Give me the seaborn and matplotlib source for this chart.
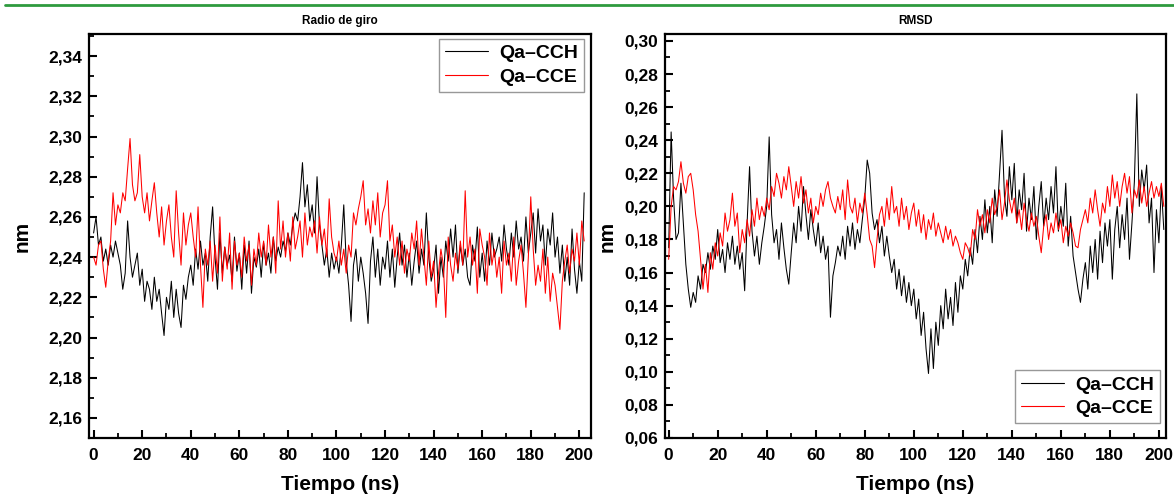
import numpy as np
import pandas as pd
import matplotlib
matplotlib.use('Agg')
import matplotlib.pyplot as plt
import seaborn as sns
from matplotlib.ticker import MultipleLocator, FuncFormatter
from matplotlib.lines import Line2D

# ---------------- data ----------------
series_names = ['Qa–CCH', 'Qa–CCE']
panel_titles = ['Radio de giro', 'RMSD']
x_label = 'Tiempo (ns)'
y_label = 'nm'

rg_cch = [
    2.252, 2.260, 2.246, 2.250, 2.238, 2.244, 2.236, 2.246, 2.240, 2.248,
    2.242, 2.236, 2.224, 2.232, 2.258, 2.240, 2.230, 2.236, 2.242, 2.226,
    2.234, 2.218, 2.228, 2.224, 2.214, 2.230, 2.218, 2.224, 2.212, 2.201,
    2.220, 2.214, 2.228, 2.210, 2.224, 2.212, 2.205, 2.226, 2.219, 2.230,
    2.236, 2.226, 2.244, 2.234, 2.248, 2.236, 2.242, 2.228, 2.250, 2.265,
    2.240, 2.224, 2.252, 2.232, 2.245, 2.236, 2.241, 2.228, 2.250, 2.233,
    2.242, 2.224, 2.246, 2.232, 2.248, 2.222, 2.240, 2.235, 2.244, 2.230,
    2.247, 2.236, 2.242, 2.232, 2.250, 2.238, 2.245, 2.240, 2.248, 2.243,
    2.252, 2.246, 2.256, 2.262, 2.258, 2.270, 2.287, 2.265, 2.276, 2.258,
    2.266, 2.252, 2.280, 2.256, 2.246, 2.236, 2.244, 2.230, 2.242, 2.234,
    2.240, 2.232, 2.246, 2.266, 2.238, 2.226, 2.208, 2.236, 2.244, 2.228,
    2.240, 2.232, 2.222, 2.207, 2.238, 2.250, 2.230, 2.244, 2.226, 2.240,
    2.234, 2.248, 2.230, 2.244, 2.225, 2.240, 2.252, 2.236, 2.246, 2.230,
    2.242, 2.226, 2.238, 2.248, 2.232, 2.244, 2.236, 2.262, 2.240, 2.228,
    2.234, 2.246, 2.222, 2.240, 2.230, 2.248, 2.238, 2.254, 2.240, 2.256,
    2.232, 2.246, 2.236, 2.244, 2.230, 2.226, 2.246, 2.238, 2.255, 2.230,
    2.242, 2.228, 2.248, 2.236, 2.252, 2.240, 2.244, 2.250, 2.238, 2.256,
    2.244, 2.236, 2.252, 2.240, 2.258, 2.244, 2.250, 2.238, 2.260, 2.242,
    2.252, 2.262, 2.242, 2.264, 2.248, 2.256, 2.236, 2.254, 2.246, 2.262,
    2.240, 2.250, 2.232, 2.246, 2.228, 2.240, 2.226, 2.254, 2.234, 2.222,
    2.238, 2.228, 2.272,
]

rg_cce = [
    2.240, 2.236, 2.246, 2.248, 2.234, 2.225, 2.238, 2.248, 2.272, 2.256,
    2.266, 2.262, 2.272, 2.268, 2.284, 2.299, 2.276, 2.268, 2.272, 2.291,
    2.270, 2.262, 2.272, 2.258, 2.268, 2.277, 2.262, 2.250, 2.265, 2.246,
    2.258, 2.266, 2.250, 2.240, 2.273, 2.252, 2.236, 2.262, 2.246, 2.256,
    2.262, 2.250, 2.240, 2.265, 2.236, 2.215, 2.244, 2.236, 2.248, 2.228,
    2.246, 2.232, 2.260, 2.228, 2.245, 2.234, 2.252, 2.224, 2.248, 2.236,
    2.242, 2.230, 2.250, 2.238, 2.246, 2.226, 2.244, 2.236, 2.252, 2.240,
    2.248, 2.236, 2.256, 2.240, 2.250, 2.232, 2.268, 2.244, 2.258, 2.240,
    2.252, 2.238, 2.260, 2.244, 2.250, 2.258, 2.240, 2.262, 2.246, 2.255,
    2.250, 2.258, 2.242, 2.260, 2.246, 2.254, 2.240, 2.269, 2.250, 2.242,
    2.238, 2.248, 2.236, 2.244, 2.232, 2.246, 2.240, 2.262, 2.256, 2.264,
    2.270, 2.278, 2.256, 2.264, 2.252, 2.268, 2.256, 2.272, 2.250, 2.262,
    2.266, 2.278, 2.248, 2.256, 2.240, 2.250, 2.236, 2.248, 2.232, 2.244,
    2.238, 2.252, 2.244, 2.258, 2.236, 2.254, 2.240, 2.226, 2.248, 2.230,
    2.238, 2.215, 2.232, 2.244, 2.236, 2.210, 2.250, 2.236, 2.228, 2.242,
    2.234, 2.248, 2.236, 2.273, 2.240, 2.250, 2.236, 2.244, 2.222, 2.254,
    2.246, 2.240, 2.226, 2.252, 2.236, 2.244, 2.230, 2.240, 2.222, 2.248,
    2.236, 2.242, 2.228, 2.250, 2.226, 2.238, 2.246, 2.232, 2.215, 2.240,
    2.270, 2.244, 2.226, 2.236, 2.228, 2.244, 2.222, 2.240, 2.218, 2.232,
    2.226, 2.215, 2.204, 2.228, 2.238, 2.246, 2.232, 2.244, 2.238, 2.252,
    2.236, 2.258, 2.248,
]

rmsd_cch = [
    0.175, 0.245, 0.205, 0.180, 0.184, 0.214, 0.190, 0.165, 0.150, 0.139,
    0.148, 0.142, 0.158, 0.150, 0.165, 0.160, 0.172, 0.162, 0.176, 0.168,
    0.186, 0.166, 0.174, 0.160, 0.178, 0.168, 0.182, 0.165, 0.176, 0.162,
    0.172, 0.149, 0.190, 0.224, 0.185, 0.170, 0.182, 0.165, 0.178, 0.188,
    0.200, 0.242, 0.195, 0.178, 0.186, 0.168, 0.190, 0.175, 0.162, 0.153,
    0.172, 0.190, 0.178, 0.200, 0.185, 0.212, 0.195, 0.180, 0.198, 0.186,
    0.176, 0.190, 0.172, 0.182, 0.168, 0.176, 0.133, 0.158, 0.166, 0.176,
    0.170, 0.182, 0.168, 0.188, 0.176, 0.190, 0.174, 0.186, 0.178, 0.192,
    0.205, 0.228, 0.220, 0.196, 0.186, 0.192, 0.178, 0.188, 0.170, 0.182,
    0.170, 0.160, 0.168, 0.150, 0.162, 0.146, 0.158, 0.142, 0.154, 0.140,
    0.150, 0.132, 0.144, 0.122, 0.136, 0.114, 0.099, 0.126, 0.102, 0.130,
    0.116, 0.140, 0.126, 0.150, 0.132, 0.145, 0.128, 0.154, 0.136, 0.158,
    0.150, 0.168, 0.158, 0.175, 0.165, 0.186, 0.172, 0.194, 0.180, 0.204,
    0.184, 0.200, 0.178, 0.210, 0.194, 0.220, 0.246, 0.206, 0.194, 0.224,
    0.204, 0.226, 0.190, 0.210, 0.198, 0.220, 0.185, 0.205, 0.192, 0.212,
    0.180, 0.200, 0.215, 0.188, 0.205, 0.192, 0.212, 0.196, 0.224, 0.185,
    0.200, 0.188, 0.214, 0.176, 0.194, 0.170, 0.160, 0.150, 0.142, 0.156,
    0.166, 0.150, 0.176, 0.160, 0.180, 0.156, 0.185, 0.166, 0.190, 0.176,
    0.192, 0.156, 0.186, 0.200, 0.175, 0.195, 0.180, 0.205, 0.168, 0.190,
    0.215, 0.268, 0.200, 0.222, 0.210, 0.225, 0.190, 0.205, 0.160, 0.198,
    0.178, 0.212, 0.186,
]

rmsd_cce = [
    0.168, 0.200, 0.212, 0.210, 0.215, 0.227, 0.214, 0.208, 0.218, 0.220,
    0.210, 0.195, 0.185, 0.168, 0.150, 0.165, 0.148, 0.172, 0.162, 0.178,
    0.170, 0.184, 0.176, 0.196, 0.185, 0.192, 0.208, 0.188, 0.196, 0.172,
    0.186, 0.178, 0.192, 0.182, 0.198, 0.188, 0.205, 0.192, 0.200, 0.194,
    0.205, 0.198, 0.212, 0.206, 0.220, 0.214, 0.205, 0.218, 0.210, 0.224,
    0.212, 0.200, 0.215, 0.205, 0.218, 0.202, 0.210, 0.196, 0.205, 0.190,
    0.200, 0.195, 0.208, 0.200, 0.210, 0.215, 0.205, 0.200, 0.196, 0.206,
    0.198, 0.210, 0.192, 0.216, 0.200, 0.196, 0.205, 0.190, 0.202, 0.196,
    0.208, 0.195, 0.180, 0.176, 0.163, 0.180, 0.195, 0.200, 0.188, 0.205,
    0.192, 0.212, 0.196, 0.200, 0.188, 0.205, 0.192, 0.200, 0.186, 0.196,
    0.202, 0.188, 0.198, 0.184, 0.195, 0.180, 0.192, 0.186, 0.196, 0.182,
    0.190, 0.184, 0.178, 0.188, 0.180, 0.186, 0.176, 0.182, 0.178, 0.172,
    0.168, 0.178, 0.175, 0.170, 0.186, 0.180, 0.198, 0.188, 0.195, 0.184,
    0.198, 0.190, 0.205, 0.195, 0.200, 0.210, 0.192, 0.202, 0.216, 0.204,
    0.196, 0.205, 0.190, 0.198, 0.186, 0.202, 0.192, 0.185, 0.196, 0.188,
    0.194, 0.182, 0.172, 0.188, 0.195, 0.180, 0.190, 0.184, 0.196, 0.186,
    0.192, 0.178, 0.188, 0.182, 0.190, 0.184, 0.176, 0.175, 0.186, 0.192,
    0.198, 0.190, 0.205, 0.196, 0.210, 0.198, 0.188, 0.202, 0.196, 0.212,
    0.200, 0.219, 0.205, 0.215, 0.200, 0.212, 0.220, 0.208, 0.218, 0.196,
    0.210, 0.205, 0.216, 0.202, 0.212, 0.200, 0.208, 0.215, 0.205, 0.212,
    0.206, 0.214, 0.200,
]

time_ns = list(range(len(rg_cch)))

# ---------------- style ----------------
sns.set_style('ticks')
plt.rcParams['font.family'] = ['Liberation Sans', 'DejaVu Sans']
plt.rcParams['font.weight'] = 'bold'
plt.rcParams['axes.labelweight'] = 'bold'
plt.rcParams['text.color'] = 'black'
plt.rcParams['axes.labelcolor'] = 'black'
plt.rcParams['xtick.color'] = 'black'
plt.rcParams['ytick.color'] = 'black'

W, H = 1174, 501
fig = plt.figure(figsize=(W / 100, H / 100), dpi=100)
fig.patch.set_facecolor('white')

ax1 = fig.add_axes([89 / W, 63 / H, 502 / W, 404 / H])
ax2 = fig.add_axes([665 / W, 63 / H, 501 / W, 404 / H])

palette = {series_names[0]: 'black', series_names[1]: 'red'}


def make_df(a, b):
    return pd.DataFrame({
        't': time_ns + time_ns,
        'v': a + b,
        'serie': [series_names[0]] * len(a) + [series_names[1]] * len(b),
    })


comma = FuncFormatter(lambda v, p: f'{v:.2f}'.replace('.', ','))

panels = [
    (ax1, make_df(rg_cch, rg_cce), panel_titles[0], (-1.9, 204.8), (2.15, 2.351),
     dict(loc='upper right', bbox_to_anchor=(0.986, 0.988)), 12),
    (ax2, make_df(rmsd_cch, rmsd_cce), panel_titles[1], (-1.5, 202.9), (0.06, 0.3042),
     dict(loc='lower right', bbox_to_anchor=(0.988, 0.037)), 5),
]

for ax, df, title, xl, yl, legkw, ylpad in panels:
    sns.lineplot(data=df, x='t', y='v', hue='serie', palette=palette,
                 estimator=None, linewidth=0.75, ax=ax)
    ax.set_xlim(*xl)
    ax.set_ylim(*yl)
    ax.xaxis.set_major_locator(MultipleLocator(20))
    ax.xaxis.set_minor_locator(MultipleLocator(10))
    ax.yaxis.set_major_locator(MultipleLocator(0.02))
    ax.yaxis.set_minor_locator(MultipleLocator(0.01))
    ax.yaxis.set_major_formatter(comma)
    ax.tick_params(which='major', direction='in', length=6, width=1.5,
                   labelsize=12.5, pad=5, colors='black')
    ax.tick_params(which='minor', direction='in', length=3.5, width=1.3,
                   colors='black')
    ax.tick_params(axis='x', pad=7)
    for s in ax.spines.values():
        s.set_visible(True)
        s.set_linewidth(1.6)
        s.set_color('black')
    ax.set_title(title, fontsize=8.5, fontweight='bold', pad=7, color='black')
    ax.set_xlabel(x_label, fontsize=15, fontweight='bold', labelpad=9,
                  color='black')
    ax.set_ylabel(y_label, fontsize=15, fontweight='bold', labelpad=ylpad,
                  color='black')
    leg = ax.legend(frameon=True, fancybox=False, edgecolor='#7f7f7f',
                    prop={'weight': 'bold', 'size': 14}, handlelength=2.2,
                    borderpad=0.3, labelspacing=0.3, handletextpad=0.6,
                    borderaxespad=0, **legkw)
    leg.get_frame().set_linewidth(1.0)
    for txt in leg.get_texts():
        txt.set_color('black')
    for line in leg.get_lines():
        line.set_linewidth(0.8)

# green rule across the top
fig.add_artist(Line2D([5 / W, 1.0], [1 - 5 / H, 1 - 5 / H], color='#2e9a3e',
                      linewidth=2, transform=fig.transFigure))

fig.savefig('out.png', dpi=100, facecolor='white')
